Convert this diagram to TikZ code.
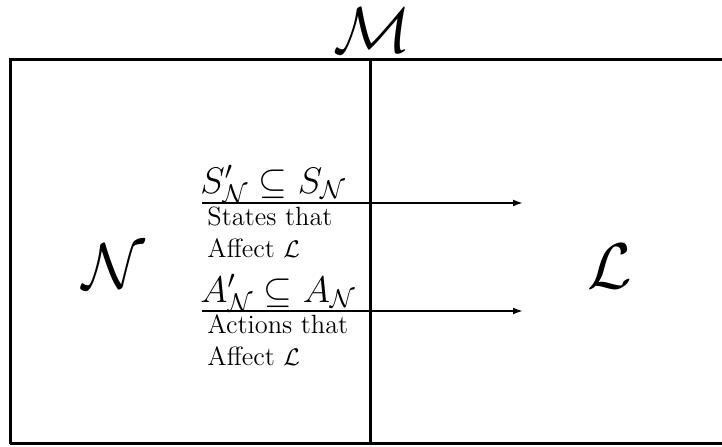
\documentclass[tikz,border=0pt]{standalone}
\usetikzlibrary{arrows.meta}
\begin{document}
\begin{tikzpicture}[x=1pt,y=1pt,
  frame/.style={line width=1.5pt},
  flow/.style={line width=0.9pt,-{Latex[length=5pt,width=3.5pt]}},
  big/.style={inner sep=0pt,font=\fontsize{24.88}{30}\selectfont,anchor=base},
  setlbl/.style={inner sep=0pt,font=\fontsize{17.28}{21}\selectfont,anchor=base west},
  desc/.style={inner sep=0pt,font=\fontsize{13.2}{16}\selectfont,anchor=base west,align=left}]
\useasboundingbox (0,0) rectangle (361,223);
\draw[frame] (5,1.25) -- (5,193.25) -- (363,193.25);
\draw[frame] (5,1.25) -- (363,1.25);
\coordinate (dt) at (185.25,193.25);
\coordinate (db) at (185.25,1.25);
\draw[frame] (dt) -- (db);
\node[big] (M) at (186.25,196.8) {\scalebox{1.3}{$\mathcal{M}$}};
\node[big] (N) at (57,79) {\scalebox{1.3}{$\mathcal{N}$}};
\node[big] (L) at (305,79) {\scalebox{1.3}{$\mathcal{L}$}};
\node[setlbl] (S) at (100,126.5) {\scalebox{1.07}{$S'_{\mathcal{N}} \subseteq S_{\mathcal{N}}$}};
\node[setlbl] (A) at (100,72) {\scalebox{1.07}{$A'_{\mathcal{N}} \subseteq A_{\mathcal{N}}$}};
\node[desc] (sd) at (103.5,94.5) {States that\\Affect $\mathcal{L}$};
\node[desc] (ad) at (103.5,40.5) {Actions that\\Affect $\mathcal{L}$};
\coordinate (s1) at (101,121.5);
\coordinate (s2) at (261.5,121.5);
\coordinate (a1) at (101,67.5);
\coordinate (a2) at (261.5,67.5);
\draw[flow] (s1) -- (s2);
\draw[flow] (a1) -- (a2);
\end{tikzpicture}
\end{document}
